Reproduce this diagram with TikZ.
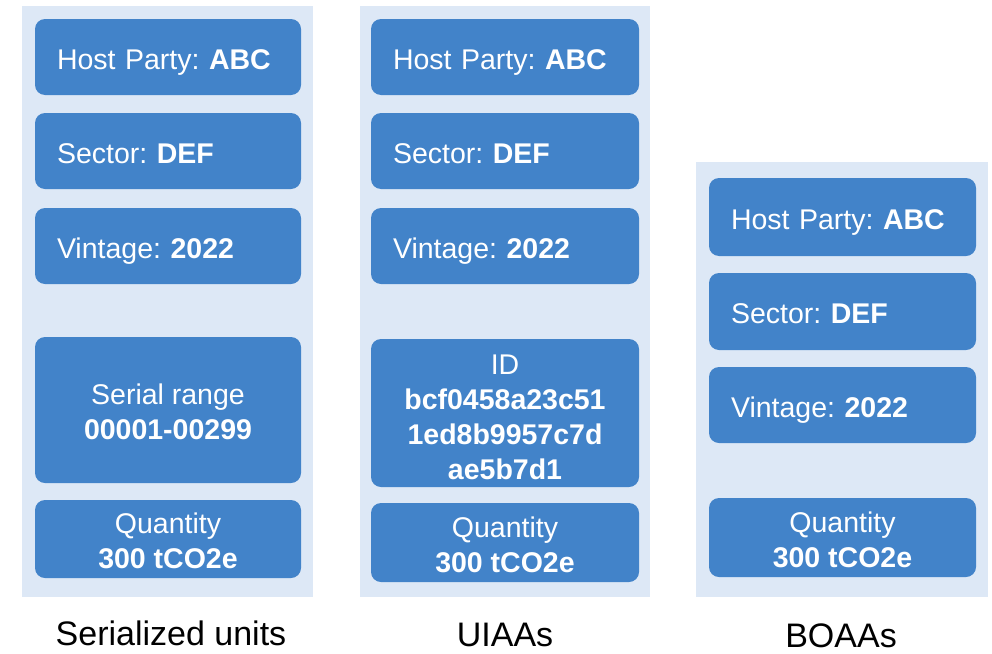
\documentclass[tikz,border=0pt]{standalone}
\usepackage{fontspec}
\setmainfont{Liberation Sans}
\frenchspacing
\definecolor{boxblue}{RGB}{66,131,201}
\definecolor{panelbg}{RGB}{221,232,246}
\begin{document}
\begin{tikzpicture}[x=1pt,y=-1pt,
  ubox/.style={fill=boxblue, rounded corners=10pt, text=white, inner sep=0pt,
    font=\fontsize{28.5}{35}\selectfont},
  leftbox/.style={ubox, align=left, inner xsep=22pt, text width=#1-44pt,
    text height=24pt, text depth=0pt},
  midbox/.style={ubox, align=center, text width=#1},
  capt/.style={font=\fontsize{34}{40}\selectfont, text=black, anchor=base, inner sep=0pt}]
\useasboundingbox (0,0) rectangle (992,653);
% panels
\fill[panelbg] (22,6) rectangle (313,597);
\fill[panelbg] (360,6) rectangle (650,597);
\fill[panelbg] (696,162) rectangle (988,597);
% panel 1
\node[leftbox=266pt, minimum height=76pt] (a1) at (168,57) {Host Party: \textbf{ABC}};
\node[leftbox=266pt, minimum height=76pt] (a2) at (168,151) {Sector: \textbf{DEF}};
\node[leftbox=266pt, minimum height=76pt] (a3) at (168,246) {Vintage: \textbf{2022}};
\node[midbox=266pt, minimum height=146pt] (a4) at (168,410) {};
\node[ubox, fill=none, align=center] (a4t) at (168,412) {Serial range\\\textbf{00001-00299}};
\node[midbox=266pt, minimum height=78pt] (a5) at (168,539) {};
\node[ubox, fill=none, align=center] (a5t) at (168,541) {Quantity\\\textbf{300 tCO2e}};
% panel 2
\node[leftbox=268pt, minimum height=76pt] (b1) at (505,57) {Host Party: \textbf{ABC}};
\node[leftbox=268pt, minimum height=76pt] (b2) at (505,151) {Sector: \textbf{DEF}};
\node[leftbox=268pt, minimum height=76pt] (b3) at (505,246) {Vintage: \textbf{2022}};
\node[midbox=268pt, minimum height=148pt] (b4) at (505,413) {};
\node[ubox, fill=none, align=center] (b4t) at (505,417) {ID\\\textbf{bcf0458a23c51}\\\textbf{1ed8b9957c7d}\\\textbf{ae5b7d1}};
\node[midbox=268pt, minimum height=79pt] (b5) at (505,542.5) {};
\node[ubox, fill=none, align=center] (b5t) at (505,544.5) {Quantity\\\textbf{300 tCO2e}};
% panel 3
\node[leftbox=267pt, minimum height=78pt] (c1) at (842.5,217) {Host Party: \textbf{ABC}};
\node[leftbox=267pt, minimum height=77pt] (c2) at (842.5,311.5) {Sector: \textbf{DEF}};
\node[leftbox=267pt, minimum height=76pt] (c3) at (842.5,405) {Vintage: \textbf{2022}};
\node[midbox=267pt, minimum height=79pt] (c5) at (842.5,537.5) {};
\node[ubox, fill=none, align=center] (c5t) at (842.5,539.5) {Quantity\\\textbf{300 tCO2e}};
% captions
\node[capt] (l1) at (171,645) {Serialized units};
\node[capt] (l2) at (505,646) {UIAAs};
\node[capt] (l3) at (841,647) {BOAAs};
\end{tikzpicture}
\end{document}
